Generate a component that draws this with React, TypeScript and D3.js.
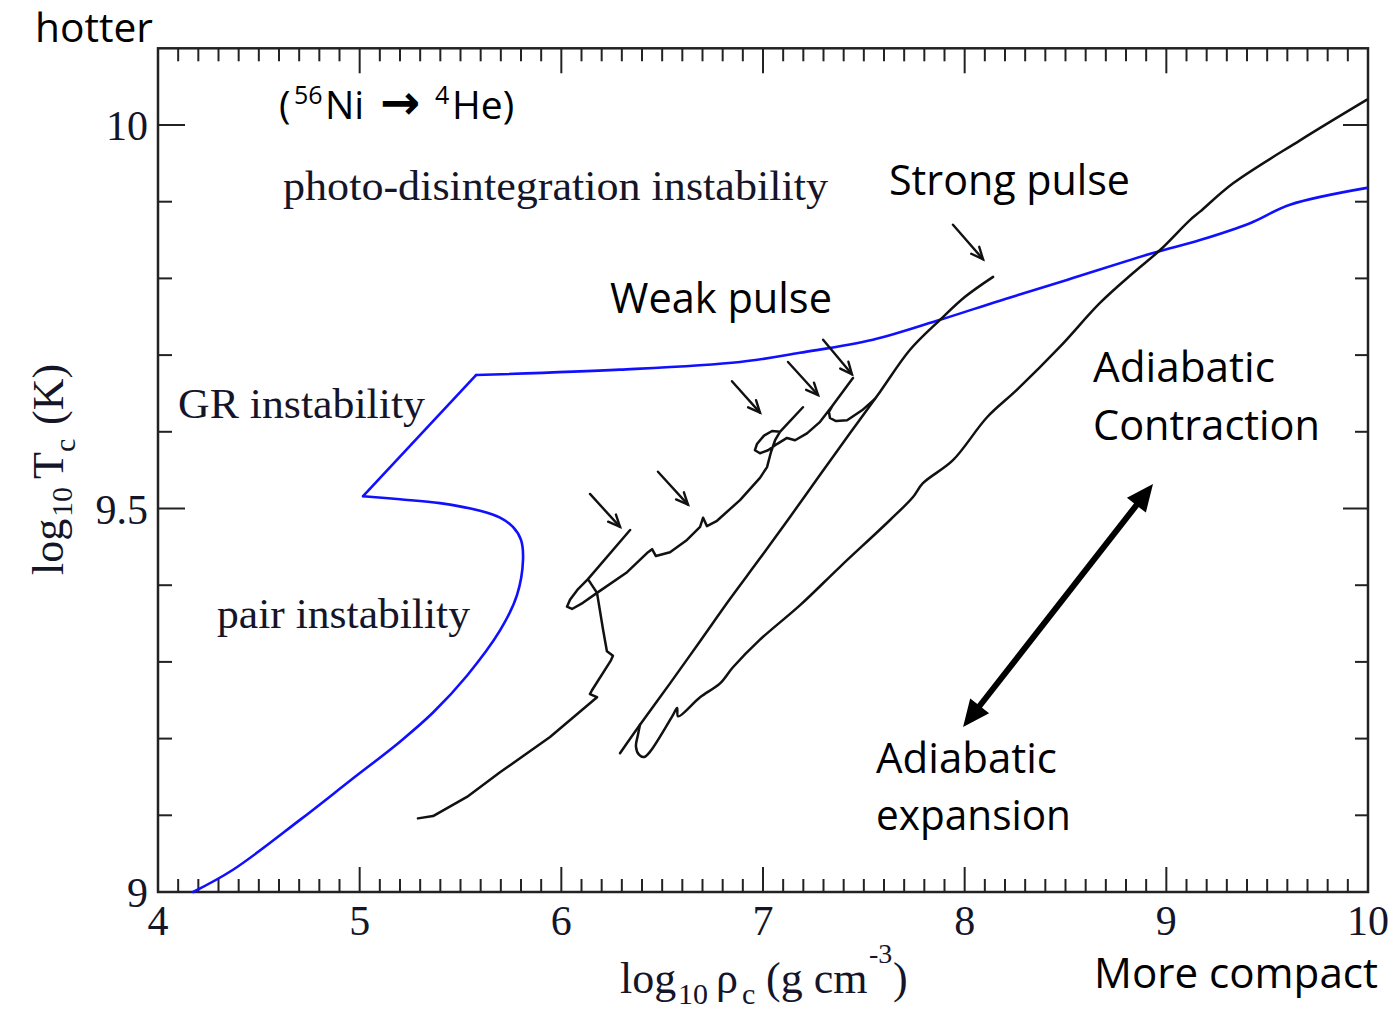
import React from 'react';
import * as d3 from 'd3';

type P = [number, number];

// axis ticks
const xTickLabels = ['4', '5', '6', '7', '8', '9', '10'];
const xTickValues = [4, 5, 6, 7, 8, 9, 10];
const yTickLabels = ['9', '9.5', '10'];
const yTickValues = [9, 9.5, 10];

// blue instability boundary (log rho, log T)
const blueLower: P[] = [
  [4.174, 9.0], [4.372, 9.029], [4.704, 9.094], [4.952, 9.145], [5.2, 9.196],
  [5.364, 9.234], [5.532, 9.282], [5.696, 9.341], [5.78, 9.387], [5.81, 9.433],
  [5.8, 9.459], [5.76, 9.476], [5.696, 9.488], [5.597, 9.497], [5.398, 9.507],
  [5.2, 9.512], [5.017, 9.516],
];
const blueUpper: P[] = [
  [5.577, 9.674], [6.291, 9.681], [6.886, 9.691], [7.183, 9.703], [7.545, 9.72],
  [7.878, 9.746], [8.175, 9.771], [8.507, 9.798], [8.934, 9.833], [9.167, 9.85],
  [9.415, 9.872], [9.613, 9.896], [9.995, 9.918],
];

// core track with weak pulses
const weakPulseTrack: P[] = [
  [5.289, 9.096], [5.364, 9.099], [5.532, 9.124], [5.696, 9.156], [5.944, 9.202],
  [6.177, 9.254], [6.142, 9.258], [6.152, 9.263], [6.246, 9.302], [6.256, 9.308],
  [6.226, 9.314], [6.207, 9.342], [6.177, 9.39], [6.132, 9.408], [6.341, 9.472],
  [6.132, 9.408], [6.083, 9.395], [6.043, 9.381], [6.028, 9.372], [6.053, 9.369],
  [6.107, 9.377], [6.177, 9.39],
  [6.326, 9.417], [6.43, 9.443], [6.45, 9.447], [6.469, 9.438], [6.539, 9.443],
  [6.623, 9.459], [6.688, 9.476], [6.703, 9.488], [6.722, 9.477], [6.772, 9.484],
  [6.886, 9.511], [6.985, 9.54], [7.02, 9.554], [7.04, 9.574], [7.06, 9.589],
  [7.084, 9.6], [7.198, 9.632], [7.084, 9.6], [7.045, 9.601], [7.005, 9.595],
  [6.97, 9.584], [6.96, 9.576], [6.985, 9.572], [7.025, 9.576], [7.069, 9.584],
  [7.119, 9.592], [7.159, 9.589],
  [7.218, 9.598], [7.283, 9.613], [7.347, 9.635], [7.446, 9.67], [7.347, 9.635],
  [7.327, 9.626], [7.332, 9.618], [7.362, 9.614], [7.417, 9.615], [7.491, 9.628],
  [7.555, 9.643],
];

// strong pulse peak and adiabatic expansion down to the bounce
const collapseTrack: P[] = [
  [8.141, 9.802], [8.002, 9.776], [7.878, 9.746], [7.729, 9.707], [7.58, 9.652],
  [7.431, 9.598], [7.283, 9.544], [7.134, 9.489], [6.985, 9.435], [6.836, 9.382],
  [6.688, 9.327], [6.539, 9.272], [6.39, 9.218], [6.291, 9.181],
];

// re-contraction after the bounce
const contractionTrack: P[] = [
  [6.39, 9.218], [6.38, 9.205], [6.37, 9.19], [6.385, 9.179], [6.41, 9.176],
  [6.44, 9.183], [6.554, 9.231], [6.574, 9.24], [6.579, 9.229], [6.688, 9.254],
  [6.787, 9.272], [6.851, 9.293], [6.985, 9.329], [7.184, 9.374], [7.382, 9.424],
  [7.63, 9.485], [7.744, 9.515], [7.793, 9.533], [7.942, 9.563], [8.111, 9.619],
  [8.26, 9.655], [8.473, 9.711], [8.671, 9.768], [8.835, 9.807], [8.969, 9.837],
  [9.117, 9.876], [9.167, 9.887], [9.331, 9.924], [9.663, 9.98], [9.995, 10.033],
];

// pulse pointer arrows: [x0, y0, x1, y1]
const pulseArrows: [number, number, number, number][] = [
  [6.142, 9.519, 6.291, 9.476],
  [6.479, 9.548, 6.628, 9.505],
  [6.846, 9.666, 6.985, 9.625],
  [7.124, 9.691, 7.273, 9.648],
  [7.298, 9.72, 7.441, 9.675],
  [7.942, 9.87, 8.091, 9.825],
];
const adiabatArrow: [number, number, number, number] = [7.992, 9.215, 8.934, 9.532];

const x = d3.scaleLinear().domain([4, 10]).range([158, 1368]);
const y = d3.scaleLinear().domain([9, 10.1]).range([892, 48.3]);

const lin = d3.line<P>().x(d => x(d[0])).y(d => y(d[1])).curve(d3.curveLinear);
const smooth = d3.line<P>().x(d => x(d[0])).y(d => y(d[1])).curve(d3.curveCatmullRom.alpha(0.5));

const SERIF = '"Liberation Serif", "Times New Roman", serif';
const SANS = '"Open Sans", "Noto Sans", sans-serif';
const TXT = '#15152a';

function openHead(x0: number, y0: number, x1: number, y1: number) {
  const a = Math.atan2(y1 - y0, x1 - x0);
  const L = 13, s = 0.42;
  const p1 = [x1 - L * Math.cos(a - s), y1 - L * Math.sin(a - s)];
  const p2 = [x1 - L * Math.cos(a + s), y1 - L * Math.sin(a + s)];
  return `M${p1[0]},${p1[1]}L${x1},${y1}L${p2[0]},${p2[1]}`;
}

function filledHead(xt: number, yt: number, a: number) {
  const L = 27, Wd = 12;
  const bx = xt - L * Math.cos(a), by = yt - L * Math.sin(a);
  const nx = -Math.sin(a), ny = Math.cos(a);
  return `M${xt},${yt}L${bx + nx * Wd},${by + ny * Wd}L${bx - nx * Wd},${by - ny * Wd}Z`;
}

export default function App() {
  const xMinor = d3.range(40, 101).map(v => v / 10);
  const yMinor = d3.range(90, 101).map(v => v / 10);
  const isXMajor = (v: number) => Math.abs(v - Math.round(v)) < 1e-6;
  const isYMajor = (v: number) => Math.abs(v * 2 - Math.round(v * 2)) < 1e-6;

  const [ax0, ay0, ax1, ay1] = adiabatArrow;
  const X0 = x(ax0), Y0 = y(ay0), X1 = x(ax1), Y1 = y(ay1);
  const ang = Math.atan2(Y1 - Y0, X1 - X0);
  const sh = 22;

  return (
    <svg width={1395} height={1012} style={{ position: 'absolute', left: 0, top: 0, background: '#fff' }}>
      <rect x={0} y={0} width={1395} height={1012} fill="#fff" />
      {/* ticks */}
      <g stroke="#222" strokeWidth={2}>
        {xMinor.map(v => {
          const L = isXMajor(v) ? 25 : 13;
          return (
            <g key={'x' + v}>
              <line x1={x(v)} x2={x(v)} y1={892} y2={892 - L} />
              <line x1={x(v)} x2={x(v)} y1={48.3} y2={48.3 + L} />
            </g>
          );
        })}
        {yMinor.map(v => {
          const L = isYMajor(v) ? 27 : 14;
          const R = isYMajor(v) ? 25 : 13;
          return (
            <g key={'y' + v}>
              <line x1={158} x2={158 + L} y1={y(v)} y2={y(v)} />
              <line x1={1368} x2={1368 - R} y1={y(v)} y2={y(v)} />
            </g>
          );
        })}
      </g>
      <rect x={158} y={48.3} width={1210} height={892 - 48.3} fill="none" stroke="#222" strokeWidth={2.5} />

      {/* tick labels */}
      <g fontFamily={SERIF} fontSize={42} fill={TXT}>
        {xTickValues.map((v, i) => (
          <text key={'xl' + i} x={x(v)} y={935} textAnchor="middle">{xTickLabels[i]}</text>
        ))}
        {yTickValues.map((v, i) => (
          <text key={'yl' + i} x={148} y={y(v) + 15} textAnchor="end">{yTickLabels[i]}</text>
        ))}
      </g>

      {/* axis titles */}
      <text fontFamily={SERIF} fill={TXT} fontSize={44}>
        <tspan x={620} y={993}>log</tspan>
        <tspan x={678} y={1004} fontSize={30}>10</tspan>
        <tspan x={716} y={993}>ρ</tspan>
        <tspan x={742} y={1004} fontSize={30}>c</tspan>
        <tspan x={766} y={993}>(g cm</tspan>
        <tspan x={869} y={963} fontSize={28}>-3</tspan>
        <tspan x={893} y={993}>)</tspan>
      </text>
      <g transform="translate(63,575) rotate(-90)">
        <text fontFamily={SERIF} fill={TXT} fontSize={44}>
          <tspan x={0} y={0}>log</tspan>
          <tspan x={58} y={9} fontSize={30}>10</tspan>
          <tspan x={96} y={0}>T</tspan>
          <tspan x={123} y={12} fontSize={30}>c</tspan>
          <tspan x={150} y={0}>(K)</tspan>
        </text>
      </g>

      {/* region labels (serif) */}
      <g fontFamily={SERIF} fontSize={43} fill={TXT}>
        <text x={283} y={200} textLength={545} lengthAdjust="spacingAndGlyphs">photo-disintegration instability</text>
        <text x={178} y={418} textLength={247} lengthAdjust="spacingAndGlyphs">GR instability</text>
        <text x={217} y={628} textLength={253} lengthAdjust="spacingAndGlyphs">pair instability</text>
      </g>

      {/* blue boundary */}
      <g fill="none" stroke="#1010ff" strokeWidth={2.6} strokeLinejoin="round" strokeLinecap="round">
        <path d={smooth(blueLower) || ''} />
        <path d={lin([blueLower[blueLower.length - 1], blueUpper[0]]) || ''} />
        <path d={smooth(blueUpper) || ''} />
      </g>

      {/* black tracks */}
      <g fill="none" stroke="#111" strokeWidth={2.5} strokeLinejoin="round" strokeLinecap="round">
        <path d={lin(weakPulseTrack) || ''} />
        <path d={smooth(collapseTrack) || ''} />
        <path d={smooth(contractionTrack) || ''} />
      </g>

      {/* pulse arrows */}
      <g fill="none" stroke="#111" strokeWidth={2.4} strokeLinecap="round" strokeLinejoin="miter">
        {pulseArrows.map((a, i) => {
          const x0 = x(a[0]), y0 = y(a[1]), x1 = x(a[2]), y1 = y(a[3]);
          return (
            <g key={'pa' + i}>
              <line x1={x0} y1={y0} x2={x1} y2={y1} />
              <path d={openHead(x0, y0, x1, y1)} />
            </g>
          );
        })}
      </g>

      {/* adiabatic double arrow */}
      <g>
        <line x1={X0 + sh * Math.cos(ang)} y1={Y0 + sh * Math.sin(ang)} x2={X1 - sh * Math.cos(ang)} y2={Y1 - sh * Math.sin(ang)} stroke="#000" strokeWidth={6} />
        <path d={filledHead(X1, Y1, ang)} fill="#000" />
        <path d={filledHead(X0, Y0, ang + Math.PI)} fill="#000" />
      </g>

      {/* sans annotations */}
      <g fontFamily={SANS} fontSize={42} fill="#000">
        <text x={35} y={42} fontSize={40} textLength={118} lengthAdjust="spacingAndGlyphs">hotter</text>
        <text x={889} y={195} textLength={241} lengthAdjust="spacingAndGlyphs">Strong pulse</text>
        <text x={610} y={313} textLength={222} lengthAdjust="spacingAndGlyphs">Weak pulse</text>
        <text x={1093} y={382} textLength={182} lengthAdjust="spacingAndGlyphs">Adiabatic</text>
        <text x={1093} y={440} textLength={227} lengthAdjust="spacingAndGlyphs">Contraction</text>
        <text x={876} y={773} textLength={181} lengthAdjust="spacingAndGlyphs">Adiabatic</text>
        <text x={876} y={830} textLength={195} lengthAdjust="spacingAndGlyphs">expansion</text>
        <text x={1094} y={988} textLength={284} lengthAdjust="spacingAndGlyphs">More compact</text>
      </g>
      <text fontFamily={SANS} fontSize={39} fill="#000">
        <tspan x={279} y={119}>(</tspan>
        <tspan x={294} y={104} fontSize={25}>56</tspan>
        <tspan x={325} y={119}>Ni</tspan>
        <tspan x={380} y={119} fontFamily='"DejaVu Sans", sans-serif' fontWeight="bold" fontSize={48}>→</tspan>
        <tspan x={435} y={104} fontSize={25}>4</tspan>
        <tspan x={452} y={119}>He)</tspan>
      </text>
    </svg>
  );
}
